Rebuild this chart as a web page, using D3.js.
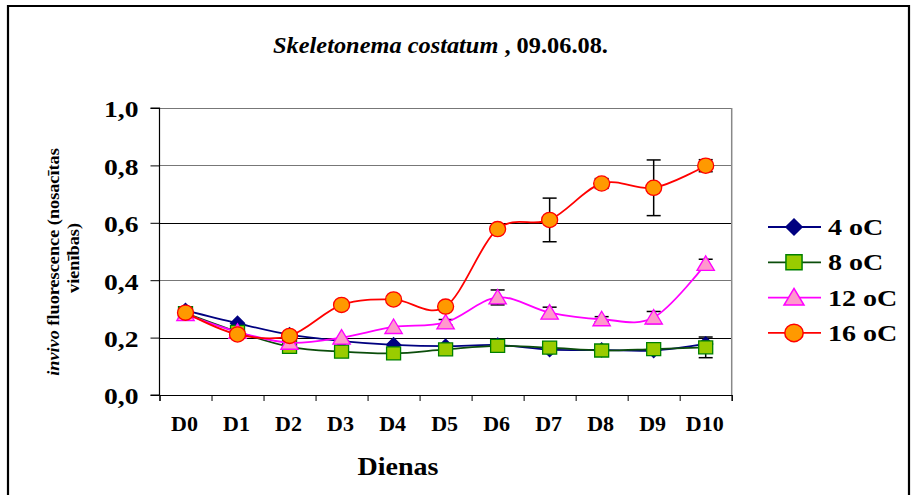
<!DOCTYPE html>
<html>
<head>
<meta charset="utf-8">
<script src="https://cdn.jsdelivr.net/npm/d3@7/dist/d3.min.js"></script>
<style>
  html, body { margin: 0; padding: 0; background: #fff; }
  svg { display: block; }
</style>
</head>
<body>
<svg id="chart" width="914" height="495"></svg>
<script>
const SERIF = "'Liberation Serif'";

// Days of the experiment
const days = ["D0", "D1", "D2", "D3", "D4", "D5", "D6", "D7", "D8", "D9", "D10"];

// Mean in vivo fluorescence per temperature
const t4  = [0.295, 0.25, 0.21, 0.188, 0.175, 0.17, 0.174, 0.158, 0.157, 0.155, 0.178];
const t8  = [0.285, 0.22, 0.168, 0.151, 0.145, 0.159, 0.171, 0.165, 0.155, 0.16, 0.166];
const t12 = [0.282, 0.22, 0.182, 0.2, 0.237, 0.253, 0.34, 0.287, 0.264, 0.27, 0.457];
const t16 = [0.287, 0.211, 0.206, 0.314, 0.333, 0.308, 0.578, 0.61, 0.737, 0.722, 0.799];

// Standard deviations (error bars)
const e4  = [0, 0, 0, 0, 0, 0, 0, 0, 0, 0, 0];
const e8  = [0, 0, 0, 0, 0, 0, 0, 0, 0, 0, 0.036];
const e12 = [0, 0, 0, 0, 0, 0.01, 0.026, 0.019, 0.009, 0.021, 0.016];
const e16 = [0, 0, 0, 0, 0, 0, 0, 0.076, 0.017, 0.097, 0.021];

const seriesNames = ["4 oC", "8 oC", "12 oC", "16 oC"];
const yTicks = [0, 0.2, 0.4, 0.6, 0.8, 1.0];

const series = [
  { name: seriesNames[0], values: t4,  err: e4,  line: "#000080", fill: "#000080", stroke: "#000080", shape: "diamond" },
  { name: seriesNames[1], values: t8,  err: e8,  line: "#0b4d0b", fill: "#99CC00", stroke: "#008000", shape: "square" },
  { name: seriesNames[2], values: t12, err: e12, line: "#FF00FF", fill: "#FF99CC", stroke: "#FF00FF", shape: "triangle" },
  { name: seriesNames[3], values: t16, err: e16, line: "#FF0000", fill: "#FF9900", stroke: "#FF0000", shape: "circle" }
];

const svg = d3.select("#chart").style("font-family", SERIF);

// The chart's lettering is a wide Times face: text is drawn in Liberation Serif
// and stretched horizontally by this factor.
const WIDEN = 1.2;

// Place a text element at (x, y), optionally rotated, stretched along its baseline.
function place(sel, x, y, rot, k) {
  sel.attr("transform", `translate(${x},${y}) rotate(${rot}) scale(${k},1)`);
  return sel;
}
// Stretch factor that makes a text element span the given width.
function fitK(sel, width) {
  return width / sel.node().getBBox().width;
}

// Outer frame
svg.append("path")
  .attr("d", "M8,496 L8,6 L909,6 L909,496")
  .attr("fill", "none").attr("stroke", "#000").attr("stroke-width", 2.2);

const plot = { left: 159.5, right: 731.7, top: 108, bottom: 395 };

const x = d3.scaleBand().domain(days).range([plot.left, plot.right]);
const y = d3.scaleLinear().domain([0, 1]).range([plot.bottom, plot.top]);
const cx = d => x(d) + x.bandwidth() / 2;

// Horizontal gridlines (0,2 and 0,6 darker; the rest grey like the plot border)
svg.append("g").selectAll("line")
  .data(yTicks.filter(v => v > 0))
  .join("line")
  .attr("x1", plot.left).attr("x2", plot.right)
  .attr("y1", d => Math.round(y(d)) + 0.5).attr("y2", d => Math.round(y(d)) + 0.5)
  .attr("stroke", (d, i) => (i === 0 || i === 2 ? "#000" : "#777"))
  .attr("stroke-width", 1);

// Right border of the plot area
svg.append("line")
  .attr("x1", plot.right).attr("x2", plot.right)
  .attr("y1", plot.top).attr("y2", plot.bottom)
  .attr("stroke", "#888").attr("stroke-width", 1.5);

// Y axis
const yAxis = svg.append("g")
  .attr("transform", `translate(${plot.left},0)`)
  .call(d3.axisLeft(y).tickValues(yTicks).tickSize(9)
    .tickFormat(d => d.toFixed(1).replace(".", ",")));
yAxis.attr("font-family", null).attr("font-size", null);
yAxis.select(".domain").attr("stroke", "#000").attr("stroke-width", 1.2).attr("d", `M-9,${y(1)}H0V${y(0)}H-9`);
yAxis.selectAll(".tick line").attr("stroke", "#000");
yAxis.selectAll(".tick text")
  .attr("x", null).attr("dy", "0.34em")
  .style("font-family", SERIF).attr("font-weight", "bold").attr("font-size", 23)
  .attr("transform", `translate(-21,1) scale(${WIDEN},1)`);

// X axis: ticks on category boundaries, labels at category centres
const xb = d3.scaleLinear().domain([0, days.length]).range([plot.left, plot.right]);
const xAxis = svg.append("g")
  .attr("transform", `translate(0,${plot.bottom})`)
  .call(d3.axisBottom(xb).tickValues(d3.range(days.length + 1)).tickSize(6).tickFormat(""));
xAxis.select(".domain").attr("stroke", "#000").attr("stroke-width", 1.2);
xAxis.selectAll(".tick line").attr("stroke", "#000");

svg.append("g").selectAll("text")
  .data(days)
  .join("text")
  .attr("text-anchor", "middle")
  .style("font-family", SERIF)
  .attr("font-weight", "bold").attr("font-size", 20)
  .text(d => d)
  .each(function (d) { place(d3.select(this), cx(d) - 1, 431, 0, 1.1); });

// Axis titles
const xTitle = svg.append("text")
  .attr("text-anchor", "middle")
  .style("font-family", SERIF)
  .attr("font-weight", "bold").attr("font-size", 26)
  .text("Dienas");
place(xTitle, 398, 475, 0, fitK(xTitle, 81));

// Two-line rotated y title: first line on the left, second on the right
const yl2 = svg.append("text")
  .attr("text-anchor", "middle")
  .style("font-family", SERIF)
  .attr("font-weight", "bold").attr("font-size", 17)
  .text("vienības)");
const kY = fitK(yl2, 70);
place(yl2, 79, 258, -90, kY);

const yl1 = svg.append("text")
  .attr("text-anchor", "middle")
  .style("font-family", SERIF)
  .attr("font-weight", "bold").attr("font-size", 17);
yl1.append("tspan").attr("font-style", "italic").text("invivo");
yl1.append("tspan").text(" fluorescence (nosacītas");
place(yl1, 59, 262, -90, kY);

// Title
const title = svg.append("text")
  .attr("text-anchor", "middle")
  .style("font-family", SERIF)
  .attr("font-size", 23);
title.append("tspan").attr("font-style", "italic").attr("font-weight", "bold").text("Skeletonema costatum");
title.append("tspan").attr("font-weight", "bold").text(" , 09.06.08.");
place(title, 440.5, 53, 0, fitK(title, 335));

// Marker shapes
function markerPath(shape) {
  switch (shape) {
    case "diamond": return "M0,-7L7,0L0,7L-7,0Z";
    case "square": return "M-7,-6.5H7V6.5H-7Z";
    case "triangle": return "M0,-8L8.7,6.5H-8.7Z";
    default: return null;
  }
}
function drawMarker(g, s) {
  if (s.shape === "circle") {
    g.append("ellipse").attr("rx", 8).attr("ry", 7.6)
      .attr("fill", s.fill).attr("stroke", s.stroke).attr("stroke-width", 1.3);
  } else {
    g.append("path").attr("d", markerPath(s.shape))
      .attr("fill", s.fill).attr("stroke", s.stroke).attr("stroke-width", 1.3);
  }
}

const line = d3.line()
  .x((v, i) => cx(days[i]))
  .y(v => y(v))
  .curve(d3.curveCardinal.tension(0));

// Error bars
series.forEach(s => {
  const g = svg.append("g").attr("stroke", "#000").attr("stroke-width", 1.5);
  s.values.forEach((v, i) => {
    const e = s.err[i];
    if (!e) return;
    const xc = cx(days[i]);
    g.append("line").attr("x1", xc).attr("x2", xc).attr("y1", y(v + e)).attr("y2", y(v - e));
    g.append("line").attr("x1", xc - 7).attr("x2", xc + 7).attr("y1", y(v + e)).attr("y2", y(v + e));
    g.append("line").attr("x1", xc - 7).attr("x2", xc + 7).attr("y1", y(v - e)).attr("y2", y(v - e));
  });
});

// Lines and markers
series.forEach(s => {
  svg.append("path")
    .datum(s.values)
    .attr("d", line)
    .attr("fill", "none")
    .attr("stroke", s.line)
    .attr("stroke-width", 1.8);
  svg.append("g").selectAll("g")
    .data(s.values)
    .join("g")
    .attr("transform", (v, i) => `translate(${cx(days[i])},${y(v)})`)
    .each(function () { drawMarker(d3.select(this), s); });
});

// Legend
const legend = svg.append("g");
series.forEach((s, i) => {
  const ly = 227 + i * 35.3;
  const row = legend.append("g").attr("transform", `translate(0,${ly})`);
  row.append("line").attr("x1", 768).attr("x2", 821).attr("y1", 0).attr("y2", 0)
    .attr("stroke", s.line).attr("stroke-width", 1.8);
  const m = row.append("g").attr("transform", "translate(794,0) scale(1.15)");
  drawMarker(m, s);
  const t = row.append("text").attr("dy", "0.35em")
    .style("font-family", SERIF)
    .attr("font-weight", "bold").attr("font-size", 23)
    .text(s.name);
  place(t, 828, 0, 0, 1.22);
});
</script>
</body>
</html>
